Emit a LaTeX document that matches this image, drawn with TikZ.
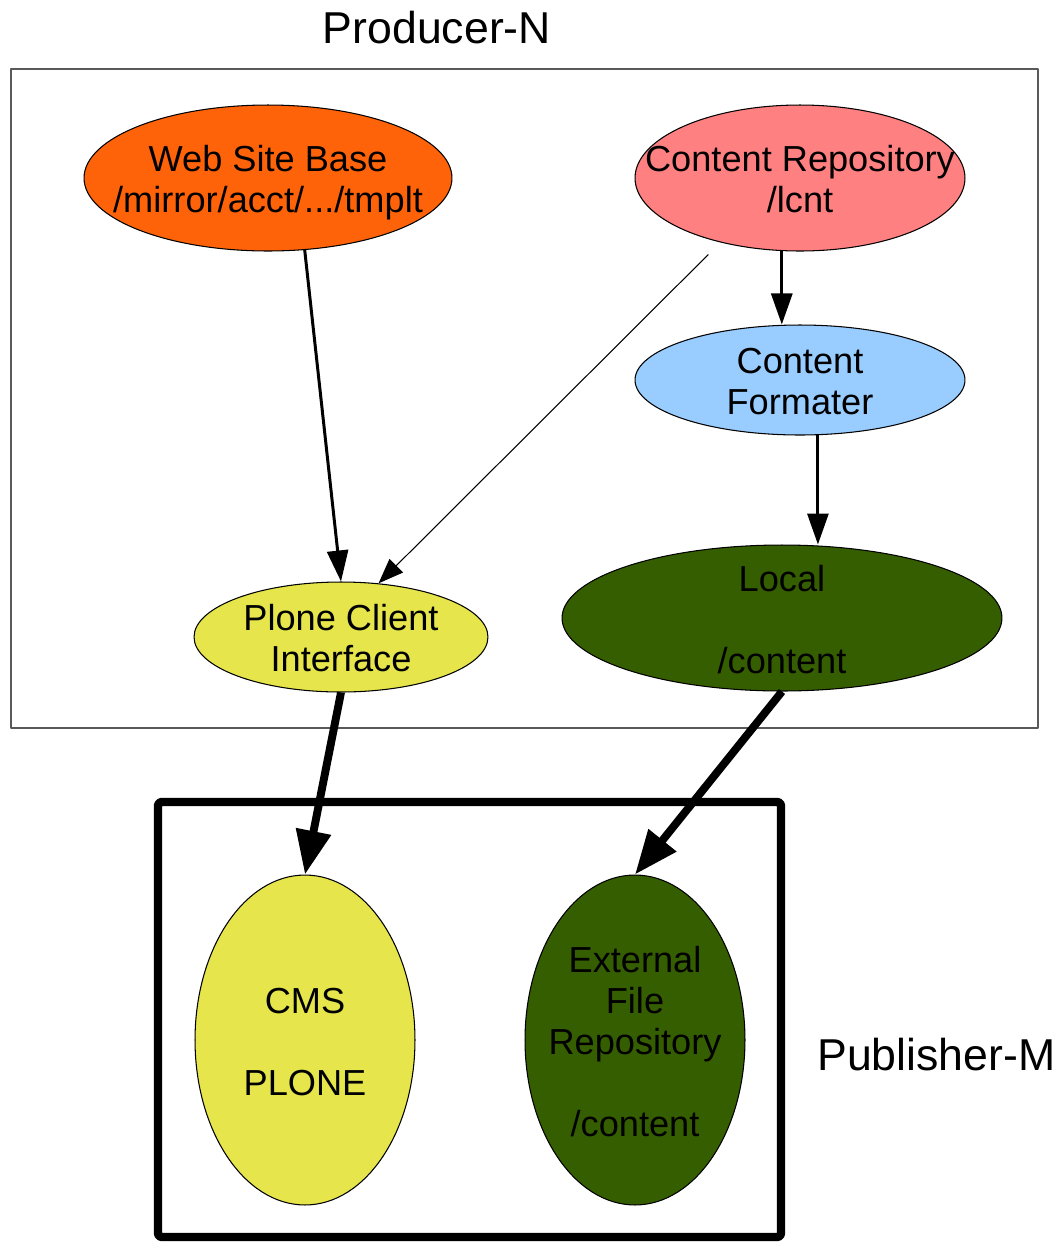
\documentclass[tikz,border=0pt]{standalone}
\usepackage{fontspec}
\setmainfont{Liberation Sans}
\usetikzlibrary{shapes.geometric,arrows.meta}
\definecolor{webc}{RGB}{255,99,9}
\definecolor{repoc}{RGB}{255,128,128}
\definecolor{fmtc}{RGB}{153,204,255}
\definecolor{plonec}{RGB}{230,230,76}
\definecolor{contc}{RGB}{53,94,0}
\newcommand{\ltext}[1]{\begin{tabular}{@{}c@{}}#1\end{tabular}}
\begin{document}
\begin{tikzpicture}[x=0.02cm, y=-0.02cm, line join=round,
	font=\fontsize{20.6}{23.3}\selectfont,
	bub/.style={ellipse, draw=black, line width=0.6pt, inner sep=0pt},
	lbl/.style={yshift=-3.4pt, inner sep=0pt},
	thinarr/.style={-{Triangle[length=0.5cm,width=0.38cm]}, line width=0.6pt},
	midarr/.style={-{Triangle[length=0.62cm,width=0.42cm]}, line width=1.7pt},
	bigarr/.style={-{Triangle[length=0.88cm,width=0.68cm]}, line width=4.5pt}]
	\useasboundingbox (0,0) rectangle (1060,1242);
	% hai khung
	\draw[black!65, line width=0.6pt] (11,69) rectangle (1038,728);
	\draw[line width=4.8pt, rounded corners=2pt] (158,802) rectangle (781,1237);
	\node[font=\fontsize{25.4}{28}\selectfont] (prod) at (437,28) {Producer-N};
	\node[font=\fontsize{25.4}{28}\selectfont, anchor=west, inner sep=0pt] (publ) at (817,1055) {Publisher-M};
	\node[bub, fill=webc, minimum width=7.36cm, minimum height=2.92cm, label={[lbl]center:\ltext{Web Site Base\\/mirror/acct/.../tmplt}}] (web) at (268,178) {};
	\node[bub, fill=repoc, minimum width=6.6cm, minimum height=2.92cm, label={[lbl]center:\ltext{Content Repository\\/lcnt}}] (repo) at (800,178) {};
	\node[bub, fill=fmtc, minimum width=6.6cm, minimum height=2.2cm, label={[lbl]center:\ltext{Content\\Formater}}] (fmt) at (800,380) {};
	\node[bub, fill=plonec, minimum width=5.88cm, minimum height=2.2cm, label={[lbl]center:\ltext{Plone Client\\Interface}}] (plone) at (341,637) {};
	\node[bub, fill=contc, minimum width=8.8cm, minimum height=2.92cm, label={[lbl]center:\ltext{Local\\ \\/content}}] (local) at (782,618) {};
	\node[bub, fill=plonec, minimum width=4.4cm, minimum height=6.6cm, label={[lbl]center:\ltext{CMS\\ \\PLONE}}] (cms) at (305,1040) {};
	\node[bub, fill=contc, minimum width=4.4cm, minimum height=6.6cm, label={[lbl]center:\ltext{External\\File\\Repository\\ \\/content}}] (ext) at (635,1040) {};
	\draw[midarr] (web.297) -- (plone.north);
	\draw[thinarr, shorten <=0.34cm] (repo.219) -- (plone.55);
	\draw[midarr] (repo.256) -- (repo.256 |- fmt.north);
	\draw[midarr] (fmt.288) -- (fmt.288 |- local.north);
	\draw[bigarr] (plone.south) -- (cms.north);
	\draw[bigarr] (local.south) -- (ext.north);
\end{tikzpicture}
\end{document}
